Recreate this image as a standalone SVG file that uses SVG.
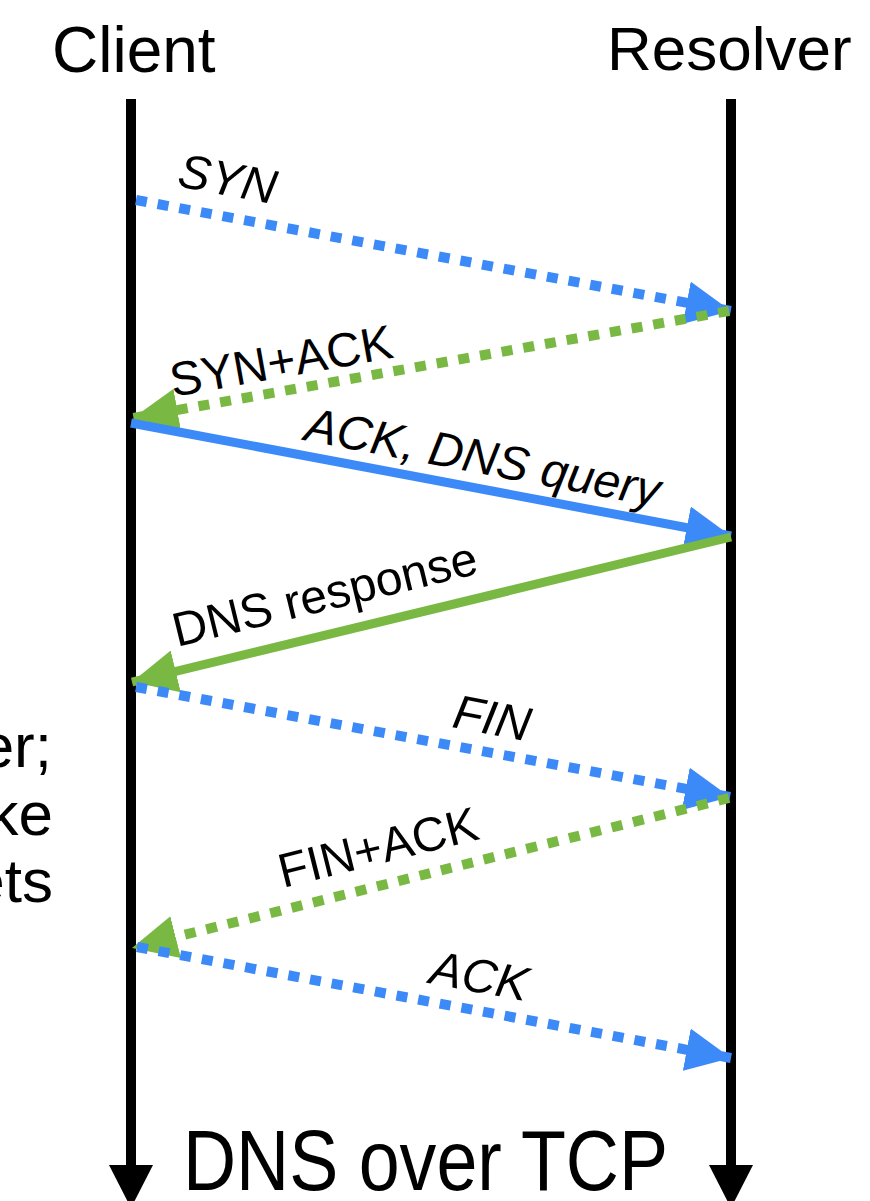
<svg xmlns="http://www.w3.org/2000/svg" width="870" height="1201" viewBox="0 0 870 1201">
  <style>
    text { font-family: "Liberation Sans", Arial, sans-serif; fill: #000; }
    .head { font-size: 64px; }
    .side { font-size: 62px; }
    .lbl { font-size: 48px; }
    .it { font-style: italic; }
    .life { stroke: #000; stroke-width: 10; fill: none; }
    .blue { stroke: #3c89f8; stroke-width: 9; fill: none; }
    .green { stroke: #79b943; stroke-width: 9; fill: none; }
    .dot { stroke-width: 10; stroke-dasharray: 11 11; }
  </style>
  <defs>
    <marker id="headBlue" markerUnits="userSpaceOnUse" markerWidth="45" markerHeight="43" refX="45" refY="21.5" orient="auto">
      <path d="M0,0 L45,21.5 L0,43 Z" fill="#3c89f8"/>
    </marker>
    <marker id="headGreen" markerUnits="userSpaceOnUse" markerWidth="45" markerHeight="43" refX="45" refY="21.5" orient="auto">
      <path d="M0,0 L45,21.5 L0,43 Z" fill="#79b943"/>
    </marker>
  </defs>
  <rect width="870" height="1201" fill="#fff"/>

  <!-- participants -->
  <g id="client">
    <text class="head" x="52" y="72">Client</text>
    <line class="life" x1="131" y1="99" x2="131" y2="1170"/>
    <path d="M109,1165 L153,1165 L131,1208 Z" fill="#000"/>
  </g>
  <g id="resolver">
    <text class="head" x="607" y="70" style="font-size:62px">Resolver</text>
    <line class="life" x1="731" y1="99" x2="731" y2="1170"/>
    <path d="M709,1165 L753,1165 L731,1208 Z" fill="#000"/>
  </g>

  <!-- note text running in from the left margin -->
  <g id="note">
    <text class="side" x="52" y="767" text-anchor="end">er;</text>
    <text class="side" x="53" y="835" text-anchor="end">ke</text>
    <text class="side" x="53" y="902" text-anchor="end">ets</text>
  </g>

  <g id="title">
    <text x="183" y="1190" style="font-size:86px" textLength="485" lengthAdjust="spacingAndGlyphs">DNS over TCP</text>
  </g>

  <!-- messages -->
  <g id="connectors">
    <line class="blue dot" x1="136" y1="200" x2="731" y2="311" marker-end="url(#headBlue)"/>
    <line class="green dot" x1="729" y1="311" x2="133" y2="418" marker-end="url(#headGreen)"/>
    <line class="blue" x1="131" y1="423" x2="731" y2="536" marker-end="url(#headBlue)"/>
    <line class="green" x1="731" y1="537" x2="132" y2="682" marker-end="url(#headGreen)"/>
    <line class="blue dot" x1="136" y1="687" x2="730" y2="797" marker-end="url(#headBlue)"/>
    <line class="green dot" x1="729" y1="798" x2="132" y2="948" marker-end="url(#headGreen)"/>
    <line class="blue dot" x1="137" y1="947" x2="731" y2="1058" marker-end="url(#headBlue)"/>
  </g>

  <!-- message labels -->
  <g id="labels">
    <text class="lbl it" transform="translate(176,186) rotate(10.6)">SYN</text>
    <text class="lbl" transform="translate(173,397) rotate(-10.1)">SYN+ACK</text>
    <text class="lbl it" transform="translate(303,440) rotate(10.7)">ACK, DNS query</text>
    <text class="lbl" transform="translate(177,647) rotate(-13.7)">DNS response</text>
    <text class="lbl it" transform="translate(451,727) rotate(10.8)">FIN</text>
    <text class="lbl" transform="translate(283,888) rotate(-14)">FIN+ACK</text>
    <text class="lbl it" transform="translate(428,983) rotate(10.6)">ACK</text>
  </g>
</svg>
